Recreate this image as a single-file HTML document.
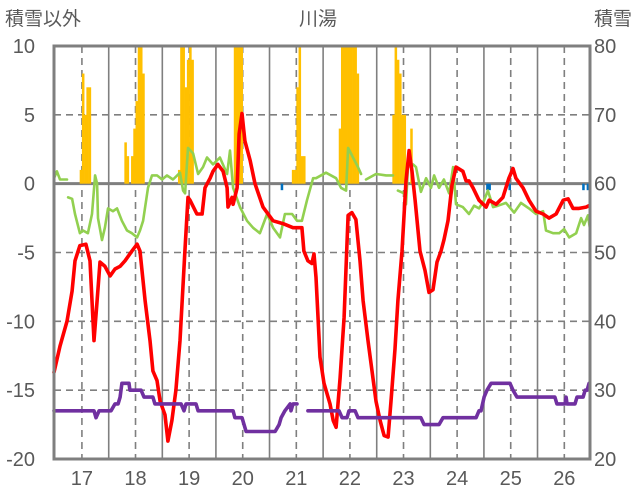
<!DOCTYPE html>
<html><head><meta charset="utf-8"><style>
html,body{margin:0;padding:0;background:#fff;}
svg{display:block;font-family:"Liberation Sans","Noto Sans CJK JP",sans-serif;}
</style></head><body>
<svg id="c" width="636" height="501" viewBox="0 0 636 501"></svg>
<script>
// ---- data ----
const dayLabels=[17,18,19,20,21,22,23,24,25,26];
const leftTicks=[10,5,0,-5,-10,-15,-20];
const rightTicks=[80,70,60,50,40,30,20];
const redHours=[0,2.7,5.8,8.1,9.4,11.6,14.3,16.1,17.9,19.3,20.6,22.8,25.1,27.3,29.6,31.8,34.9,37.2,38.5,40.8,43,44.3,46.1,47.5,49.7,51,52.8,54.6,56.4,58.6,60,60.9,64,66.3,67.6,69.9,71.2,73.4,75.7,77.5,77.9,79.7,80.2,82,82.9,84.2,85.5,87.8,90,93.6,98.1,102.5,107,111,111.9,113.7,115.5,116.4,117.3,118.2,119.1,120.9,123.6,125,126.3,128.1,129.9,131.7,133.4,135.2,137,138.4,140.6,142.4,144.2,146,147.8,149.6,150.9,152.7,154,155.8,157.6,159,160.3,161.7,163.9,166.1,167.9,169.7,171.5,173.3,174.6,176.4,178.2,180,183.1,184.5,185.8,187.6,190.3,193.5,194.8,198,201,203.7,205.5,206.8,210,212.7,215.8,219,221.7,224.8,228,230.2,232.4,235.1,238.2,239.6];
const redValues=[-13.7,-11.8,-10,-7.8,-5.6,-4.5,-4.4,-5.6,-11.4,-8.5,-5.7,-6,-6.7,-6.2,-6,-5.6,-4.9,-4.4,-4.9,-8.5,-11.4,-13.6,-14.3,-15.8,-16.8,-18.7,-17.2,-15,-11.4,-4.9,-1.0,-1.2,-2.2,-2.2,-0.3,0.4,0.9,1.4,0.9,-0.3,-1.7,-1.0,-1.5,-0.3,3.6,5.1,3.1,1.7,0,-1.7,-2.7,-2.9,-3.2,-3.2,-4.9,-5.6,-5.8,-5.1,-6.8,-9.7,-12.6,-14.5,-16,-17.2,-17.7,-14.1,-9.7,-2.3,-2.1,-2.6,-5.6,-8.5,-11.4,-13.6,-15.8,-17.2,-18.3,-18.4,-15.8,-12,-8.5,-4.9,0.2,2.4,0.9,-1.2,-4.9,-6.3,-7.9,-7.7,-5.7,-4.9,-4.1,-2.7,-0.1,1.2,0.9,0.2,0.2,-0.3,-1.2,-1.7,-1.2,-1.5,-1.0,0.4,1.1,0.4,-0.3,-1.2,-2.0,-2.2,-2.5,-2.2,-1.2,-1.1,-1.8,-1.8,-1.7,-1.6];
const greenHours=[0,1.3,2.7,5.8,null,6.3,8.1,9.4,11.6,13,15.2,17,18.4,19.3,19.7,21.5,22.8,24.2,26.4,28.2,30.4,32.7,34.9,37.2,38.5,39.9,42.1,43.9,46.1,48.4,50.6,53.3,56.4,57.8,58.7,60,62.3,64.5,66.7,68.5,71.2,74.3,77.5,78.8,80.2,83.3,86.4,89.1,92.2,95.4,98.1,101.2,103.4,106.6,108.8,111,113.3,116,117.3,121.8,126.3,128.5,130.8,131.7,133.9,136.1,137.5,null,139.7,144.2,148.7,151.8,null,154,156.7,157.6,158.5,160.8,162.1,164.3,166.6,168.8,170.2,172.4,174.6,176.9,178.7,180,183.1,185.8,188.1,190.3,192.6,194.3,196.6,198.8,202.4,206,209.1,212.7,215.8,219,220.3,223.5,226.2,228.4,230.7,233.8,236,237.3,239.1,240];
const greenValues=[0.4,0.9,0.3,0.3,null,-1.0,-1.1,-2.2,-3.6,-3.4,-3.6,-2.2,0.6,0,-2.5,-4.1,-3.2,-1.8,-2.0,-1.8,-2.7,-3.4,-3.6,-3.9,-3.4,-2.7,-0.3,0.6,0.6,0.3,0.6,0.3,0.8,-0.5,-0.7,2.6,2.2,0.7,1.2,1.9,1.4,1.9,0.7,2.4,-0.3,-1.7,-2.7,-3.2,-3.6,-2.2,-3.2,-3.9,-2.2,-2.2,-2.7,-2.7,-1.2,0.4,0.4,0.8,0.4,-0.3,-0.5,2.6,1.9,1.2,0.7,null,0.3,0.7,0.6,0.6,null,-0.5,-0.7,-1.5,1.2,1.4,1.2,-0.6,0.4,-0.3,0.6,-0.3,0.3,-0.7,1.2,-1.5,-1.7,-2.2,-1.6,-1.8,-1.2,-0.5,-1.7,-1.6,-1.4,-2.1,-1.4,-1.8,-2.2,-2.0,-3.4,-3.6,-3.6,-3.3,-3.9,-3.6,-2.5,-3.0,-2.3,-3.3];
const snowHours=[0,17,17.9,18.8,20.2,25.5,27.3,28.7,29.6,30.4,33.6,34,39,40.3,44.3,45.2,56.9,58.2,59.1,63.6,64.5,80.2,81,84.2,86,99,100.8,101.7,103.4,105.7,106.1,107,108.8,null,113.7,127.6,129,131.2,132.1,134.8,136.1,164.3,165.7,172.4,174.2,189,190.3,191.2,192.6,193.9,195.7,204.2,205.5,207.3,224.3,225.2,228.8,229.3,229.7,233.3,234.2,236.9,237.8,238.7,239.6];
const snowValues=[27,27,27,26,27,27,28,28,29,31,31,30,30,29,29,28,28,27,28,28,27,27,26,26,24,24,25,26,27,28,27,28,28,null,27,27,26,26,27,27,26,26,25,25,26,26,27,27,29,30,31,31,30,29,29,28,28,29,28,28,29,29,30,30,31];
const snowfallHours=[12,13,14,15,16,32,33,35,36,37,38,39,40,56,57,58,59,60,61,62,81,82,83,84,107,108,109,110,111,112,128,129,130,131,132,133,134,135,136,152,153,154,155,156,157,160];
const snowfallValues=[1,8,5,7,7,3,2,2,4,6,10,10,8,1,10,10,7,9,10,9,10,10,10,10,1,1,7,10,2,2,4,10,10,10,10,10,10,10,8,5,10,9,8,5,5,4];
const meltHours=[102,194,195,204,237,239];
const meltValues=[-0.4,-0.4,-0.4,-0.4,-0.4,-0.4];

// ---- axes ----
const X0=54,X1=590,Y0=46,Y1=459;
const xOf=h=>X0+h*(X1-X0)/240;
const yOf=v=>Y0+(10-v)*(Y1-Y0)/30;
const ySnow=s=>yOf((s-60)/2);
const NS='http://www.w3.org/2000/svg';
const svg=document.getElementById('c');
function mk(tag,attrs,parent){const e=document.createElementNS(NS,tag);for(const k in attrs)e.setAttribute(k,attrs[k]);(parent||svg).appendChild(e);return e;}
const G='#7f7f7f';

// horizontal grid
leftTicks.forEach(v=>{
  if(v===10||v===-20)return;
  const y=yOf(v);
  const l=mk('line',{x1:X0,x2:X1,y1:y,y2:y,stroke:G,'stroke-width':v===0?3:1.6,'stroke-dasharray':v===0?'none':'7,5'});
  
  
});
// vertical grid
for(let d=0;d<10;d++){
  const xm=xOf(12.5+24*d);
  const l=mk('line',{x1:xm,x2:xm,y1:Y0,y2:Y1,stroke:G,'stroke-width':1.6,'stroke-dasharray':'7,5'});
  
  
  if(d<9){const xs=xOf(24.5+24*d);
  const s=mk('line',{x1:xs,x2:xs,y1:Y0,y2:Y1,stroke:G,'stroke-width':1.6});
  
  }
}
// bars
const bw=(X1-X0)/240;
snowfallHours.forEach((h,i)=>{
  const v=Math.min(snowfallValues[i],10);
  const r=mk('rect',{x:xOf(h)-bw/2,y:yOf(v),width:bw+0.3,height:yOf(0)-yOf(v),fill:'#ffc000'});
  
  
});
meltHours.forEach((h,i)=>{
  const r=mk('rect',{x:xOf(h)-bw/2,y:yOf(0),width:bw+0.3,height:yOf(meltValues[i])-yOf(0)+1,fill:'#0070c0'});
  
  
});
function series(hs,vs,yf,color,w,name){
  let d='',pen=false;
  hs.forEach((h,i)=>{
    if(h===null||vs[i]===null){pen=false;return;}
    d+=(pen?'L':'M')+xOf(h).toFixed(1)+' '+yf(vs[i]).toFixed(1);pen=true;
  });
  const p=mk('path',{d:d,fill:'none',stroke:color,'stroke-width':w,'stroke-linejoin':'round','stroke-linecap':'round'});
  
  
}
series(greenHours,greenValues,yOf,'#92d050',2.6,'green-series-line');
series(redHours,redValues,yOf,'#ff0000',3.6,'temperature-line');
series(snowHours,snowValues,ySnow,'#7030a0',3.6,'snow-depth-line');
// frame
const f=mk('rect',{x:X0,y:Y0,width:X1-X0,height:Y1-Y0,fill:'none',stroke:G,'stroke-width':3});


// tick labels
leftTicks.forEach(v=>{
  const t=mk('text',{x:35,y:yOf(v)+7,'text-anchor':'end','font-size':20,fill:'#595959'});t.textContent=v;
  
  
});
rightTicks.forEach(s=>{
  const t=mk('text',{x:594,y:ySnow(s)+7,'font-size':20,fill:'#595959'});t.textContent=s;
  
  
});
dayLabels.forEach((d,i)=>{
  const t=mk('text',{x:xOf(12.5+24*i),y:485,'text-anchor':'middle','font-size':20,fill:'#595959'});t.textContent=d;
  
  
});
[['積雪以外',5,'start','left-axis-title'],['川湯',318,'middle','chart-title'],['積雪',632,'end','right-axis-title']].forEach(a=>{
  const t=mk('text',{x:a[1],y:25,'text-anchor':a[2],'font-size':19,fill:'#595959'});t.textContent=a[0];
  
  
});
</script>
</body></html>
